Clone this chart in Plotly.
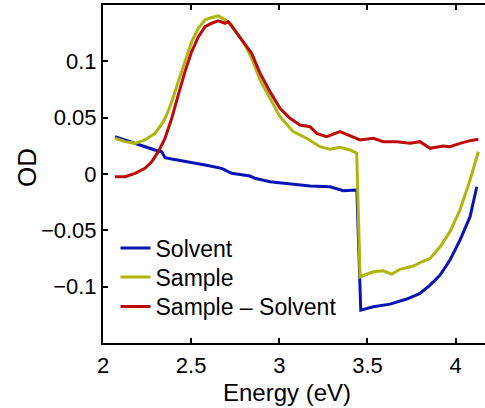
import plotly.graph_objects as go

# Solvent (blue)
solvent_E = [2.068, 2.125, 2.200, 2.295, 2.333, 2.352, 2.39, 2.482, 2.579, 2.673, 2.73, 2.834,
             2.862, 2.947, 3.061, 3.174, 3.288, 3.363, 3.435, 3.44,
             3.462, 3.533, 3.628, 3.723, 3.798, 3.855, 3.912, 3.968, 4.025, 4.082, 4.12]
solvent_OD = [0.0331, 0.0300, 0.0258, 0.0213, 0.0198, 0.0145, 0.0133, 0.011, 0.008, 0.005, 0.0006, -0.0018,
              -0.0038, -0.0068, -0.0089, -0.0107, -0.0113, -0.0148, -0.0142, -0.0145,
              -0.1208, -0.1178, -0.1155, -0.111, -0.106, -0.0986, -0.0897, -0.0764, -0.0586, -0.0379, -0.0113]

# Sample (yellow-green)
sample_E = [2.068, 2.125, 2.182, 2.238, 2.295, 2.342, 2.361, 2.39, 2.427, 2.465, 2.503, 2.541,
            2.579, 2.617, 2.654, 2.692, 2.73, 2.767, 2.805, 2.843, 2.891, 3.004, 3.079, 3.155,
            3.231, 3.288, 3.344, 3.401, 3.439,
            3.458, 3.533, 3.59, 3.638, 3.685, 3.76, 3.808, 3.855, 3.912, 3.968, 4.025, 4.082, 4.129]
sample_OD = [0.0317, 0.0287, 0.0272, 0.0302, 0.0361, 0.0465, 0.0524, 0.0642, 0.082, 0.0997, 0.1175, 0.1294,
             0.1368, 0.1389, 0.1403, 0.1368, 0.1323, 0.1234, 0.1146, 0.1028, 0.0835, 0.0509, 0.0376, 0.0317,
             0.0242, 0.0219, 0.0237, 0.0213, 0.0184,
             -0.0912, -0.0868, -0.0859, -0.0888, -0.0846, -0.0817, -0.0779, -0.0749, -0.0646, -0.0512, -0.032, -0.0053, 0.0198]

# Sample - Solvent (red)
diff_E = [2.068, 2.125, 2.182, 2.238, 2.276, 2.314, 2.352, 2.39, 2.427, 2.465, 2.503, 2.541,
          2.579, 2.617, 2.654, 2.692, 2.711, 2.739, 2.767, 2.805, 2.843, 2.891, 2.947, 3.004,
          3.061, 3.117, 3.174, 3.212, 3.269, 3.344, 3.401, 3.458, 3.533, 3.59, 3.666, 3.741,
          3.798, 3.855, 3.93, 3.968, 4.025, 4.082, 4.129]
diff_OD = [-0.0024, -0.0024, 0.0006, 0.0051, 0.0109, 0.0198, 0.0317, 0.0495, 0.0702, 0.0909, 0.1086, 0.1219,
           0.1308, 0.1338, 0.1359, 0.1338, 0.1353, 0.1294, 0.1234, 0.116, 0.1072, 0.0894, 0.0731, 0.0583,
           0.0495, 0.0435, 0.042, 0.0361, 0.0331, 0.0376, 0.0337, 0.0302, 0.0317, 0.0287, 0.0287, 0.0272,
           0.0287, 0.0228, 0.0249, 0.0242, 0.0272, 0.0296, 0.0308]

series_names = ["Solvent", "Sample", "Sample \u2013 Solvent"]
x_ticks = [2, 2.5, 3, 3.5, 4]
y_ticks = [-0.1, -0.05, 0, 0.05, 0.1]

FONT = "Liberation Sans, Arial, sans-serif"
L, R, T, B, W, H = 103, 0, 5, 65, 485, 408
PW, PH = W - L - R, H - T - B

def px2paper(px, py):
    return (px - L) / PW, (H - B - py) / PH

fig = go.Figure()
colors = ["#0A14B4", "#AEB60C", "#BC0A0A"]
data = [(solvent_E, solvent_OD), (sample_E, sample_OD), (diff_E, diff_OD)]
legend_ids = ["legend", "legend2", "legend3"]
for (xs, ys), name, col, lid in zip(data, series_names, colors, legend_ids):
    fig.add_trace(go.Scatter(x=xs, y=ys, mode="lines", name=name, legend=lid,
                             line=dict(color=col, width=3)))

row_centers = [248, 277, 306.5]
legend_cfg = {}
for lid, yc in zip(legend_ids, row_centers):
    lx, ly = px2paper(115.5, yc)
    legend_cfg[lid] = dict(x=lx, y=ly, xanchor="left", yanchor="middle",
                           bgcolor="rgba(0,0,0,0)", font=dict(size=23, family=FONT),
                           itemwidth=30)

fig.update_layout(
    width=W, height=H,
    margin=dict(l=L, r=R, t=T, b=B),
    paper_bgcolor="white", plot_bgcolor="white",
    font=dict(family=FONT, size=22, color="black"),
    showlegend=True,
    xaxis=dict(range=[2, 4.1667], tickvals=x_ticks, ticks="inside", ticklen=5,
               tickwidth=1.5, tickcolor="black", showline=True, linewidth=2,
               linecolor="black", mirror="ticks", showgrid=False, zeroline=False,
               tickfont=dict(size=22), ticklabelstandoff=2),
    yaxis=dict(range=[-0.15, 0.15], tickvals=y_ticks, ticks="inside", ticklen=5,
               tickwidth=1.5, tickcolor="black", showline=True, linewidth=2,
               linecolor="black", showgrid=False, zeroline=False,
               tickfont=dict(size=22)),
    **legend_cfg,
)

ax, ay = px2paper(287, 392.5)
fig.add_annotation(text="Energy (eV)", x=ax, y=ay, xref="paper", yref="paper",
                   xanchor="center", yanchor="middle", showarrow=False,
                   font=dict(size=24))
ox, oy = px2paper(27.5, 167.5)
fig.add_annotation(text="OD", x=ox, y=oy, xref="paper", yref="paper",
                   xanchor="center", yanchor="middle", showarrow=False,
                   textangle=-90, font=dict(size=26))

fig.write_html("out.html")
